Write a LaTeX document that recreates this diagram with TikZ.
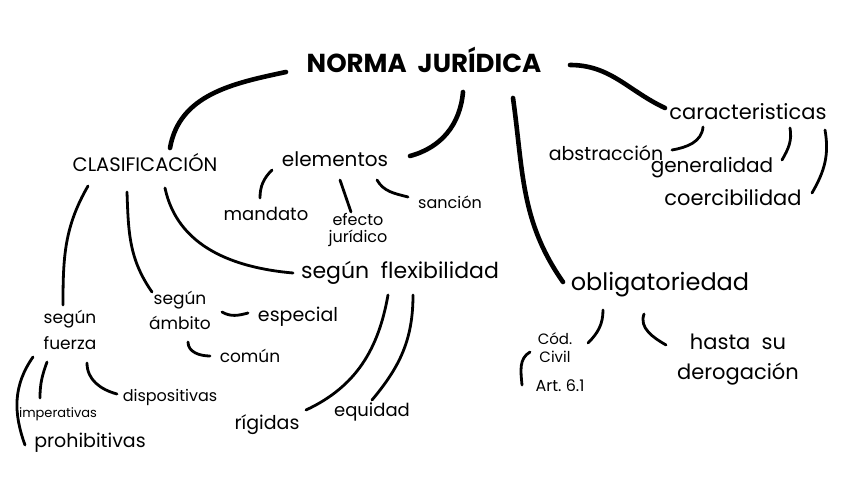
\documentclass[tikz,border=0pt]{standalone}
\usepackage{fontspec}
\setmainfont{Poppins}
\begin{document}
\begin{tikzpicture}[x=1pt,y=1pt,
  lbl/.style={inner sep=0pt,align=center,text=black},
  main/.style={line width=4.6pt,line cap=round,black},
  sub/.style={line width=2.8pt,line cap=round,black}]
\useasboundingbox[fill=white] (0,0) rectangle (848,477);
% nodes
\node[lbl,font=\bfseries\fontsize{26}{28}\selectfont] (title) at (424,417) {NORMA\ \ JURÍDICA};
\node[lbl,font=\fontsize{19.5}{21}\selectfont] (clasif) at (145,314) {CLASIFICACIÓN};
\node[lbl,font=\fontsize{20}{22}\selectfont] (elem) at (335,318) {elementos};
\node[lbl,font=\fontsize{18}{20}\selectfont] (mandato) at (266,263) {mandato};
\node[lbl,font=\fontsize{16}{17}\selectfont] (efecto) at (358,247) {efecto\\jurídico};
\node[lbl,font=\fontsize{16}{18}\selectfont] (sancion) at (450,275) {sanción};
\node[lbl,font=\fontsize{21}{23}\selectfont] (carac) at (748,365) {caracteristicas};
\node[lbl,font=\fontsize{19}{21}\selectfont] (abstr) at (606,324) {abstracción};
\node[lbl,font=\fontsize{20}{22}\selectfont] (gener) at (712,309) {generalidad};
\node[lbl,font=\fontsize{21}{23}\selectfont] (coerc) at (733,279) {coercibilidad};
\node[lbl,font=\fontsize{22}{24}\selectfont] (flex) at (400,204) {según\ \ flexibilidad};
\node[lbl,font=\fontsize{24}{26}\selectfont] (oblig) at (660,192) {obligatoriedad};
\node[lbl,font=\fontsize{15}{18}\selectfont] (codciv) at (555,129) {Cód.\\Civil};
\node[lbl,font=\fontsize{16}{18}\selectfont] (art) at (560,91) {Art.\ 6.1};
\node[lbl,font=\fontsize{21}{30}\selectfont] (hasta) at (738,117) {hasta\ \ su\\derogación};
\node[lbl,font=\fontsize{17}{26}\selectfont] (fuerza) at (70,147) {según\\fuerza};
\node[lbl,font=\fontsize{17}{25}\selectfont] (ambito) at (180,167) {según\\ámbito};
\node[lbl,font=\fontsize{19}{21}\selectfont] (especial) at (298,160) {especial};
\node[lbl,font=\fontsize{17}{19}\selectfont] (comun) at (250,121) {común};
\node[lbl,font=\fontsize{16}{18}\selectfont] (disp) at (170,80) {dispositivas};
\node[lbl,font=\fontsize{13}{15}\selectfont] (imper) at (58,63) {imperativas};
\node[lbl,font=\fontsize{19}{21}\selectfont] (prohib) at (90,34) {prohibitivas};
\node[lbl,font=\fontsize{19}{21}\selectfont] (rigidas) at (267,52) {rígidas};
\node[lbl,font=\fontsize{18}{20}\selectfont] (equidad) at (372,65) {equidad};
% main connectors
\draw[main] ([shift={(-138,-12)}]title.center) to[out=192,in=80] ([shift={(25,15)}]clasif.center);
\draw[main] ([shift={(39,-32)}]title.center) to[out=-95,in=15] ([shift={(75,3)}]elem.center);
\draw[main] ([shift={(89,-38)}]title.center) to[out=-82,in=125] ([shift={(-97,3)}]oblig.center);
\draw[main] ([shift={(146,-5)}]title.center) to[out=0,in=155] ([shift={(-83,4)}]carac.center);
% clasificacion
\draw[sub] ([shift={(-57,-23)}]clasif.center) to[out=-120,in=90] ([shift={(-7,25)}]fuerza.center);
\draw[sub] ([shift={(-18,-29)}]clasif.center) to[out=-88,in=125] ([shift={(-28,18)}]ambito.center);
\draw[sub] ([shift={(20,-25)}]clasif.center) to[out=-78,in=175] ([shift={(-107,0)}]flex.center);
% elementos
\draw[sub] ([shift={(-63,-11)}]elem.center) to[out=-135,in=90] ([shift={(-6,16)}]mandato.center);
\draw[sub] ([shift={(5,-21)}]elem.center) -- ([shift={(-7,18)}]efecto.center);
\draw[sub] ([shift={(42,-21)}]elem.center) to[out=-60,in=165] ([shift={(-42,5)}]sancion.center);
% caracteristicas
\draw[sub] ([shift={(-45,-15)}]carac.center) to[out=-95,in=10] ([shift={(66,3)}]abstr.center);
\draw[sub] ([shift={(42,-16)}]carac.center) to[out=-80,in=60] ([shift={(70,8)}]gener.center);
\draw[sub] ([shift={(77,-18)}]carac.center) to[out=-80,in=60] ([shift={(79,5)}]coerc.center);
% flexibilidad
\draw[sub] ([shift={(-12,-22)}]flex.center) to[out=-100,in=25] ([shift={(39,15)}]rigidas.center);
\draw[sub] ([shift={(13,-22)}]flex.center) to[out=-90,in=50] ([shift={(0,12)}]equidad.center);
% ambito
\draw[sub] ([shift={(42,-2)}]ambito.center) to[out=-30,in=195] ([shift={(-50,4)}]especial.center);
\draw[sub] ([shift={(8,-32)}]ambito.center) to[out=-90,in=180] ([shift={(-40,0)}]comun.center);
% fuerza
\draw[sub] ([shift={(-23,-32)}]fuerza.center) to[out=-110,in=90] ([shift={(-18,16)}]imper.center);
\draw[sub] ([shift={(17,-33)}]fuerza.center) to[out=-90,in=165] ([shift={(-53,3)}]disp.center);
\draw[sub] ([shift={(-37,-27)}]fuerza.center) to[out=-125,in=110] ([shift={(-65,-2)}]prohib.center);
% obligatoriedad
\draw[sub] ([shift={(-57,-25)}]oblig.center) to[out=-90,in=45] ([shift={(33,5)}]codciv.center);
\draw[sub] ([shift={(-16,-29)}]oblig.center) to[out=-110,in=150] ([shift={(-72,15)}]hasta.center);
\draw[sub] ([shift={(-25,-4)}]codciv.center) to[out=-150,in=95] ([shift={(-38,1)}]art.center);
\end{tikzpicture}
\end{document}
